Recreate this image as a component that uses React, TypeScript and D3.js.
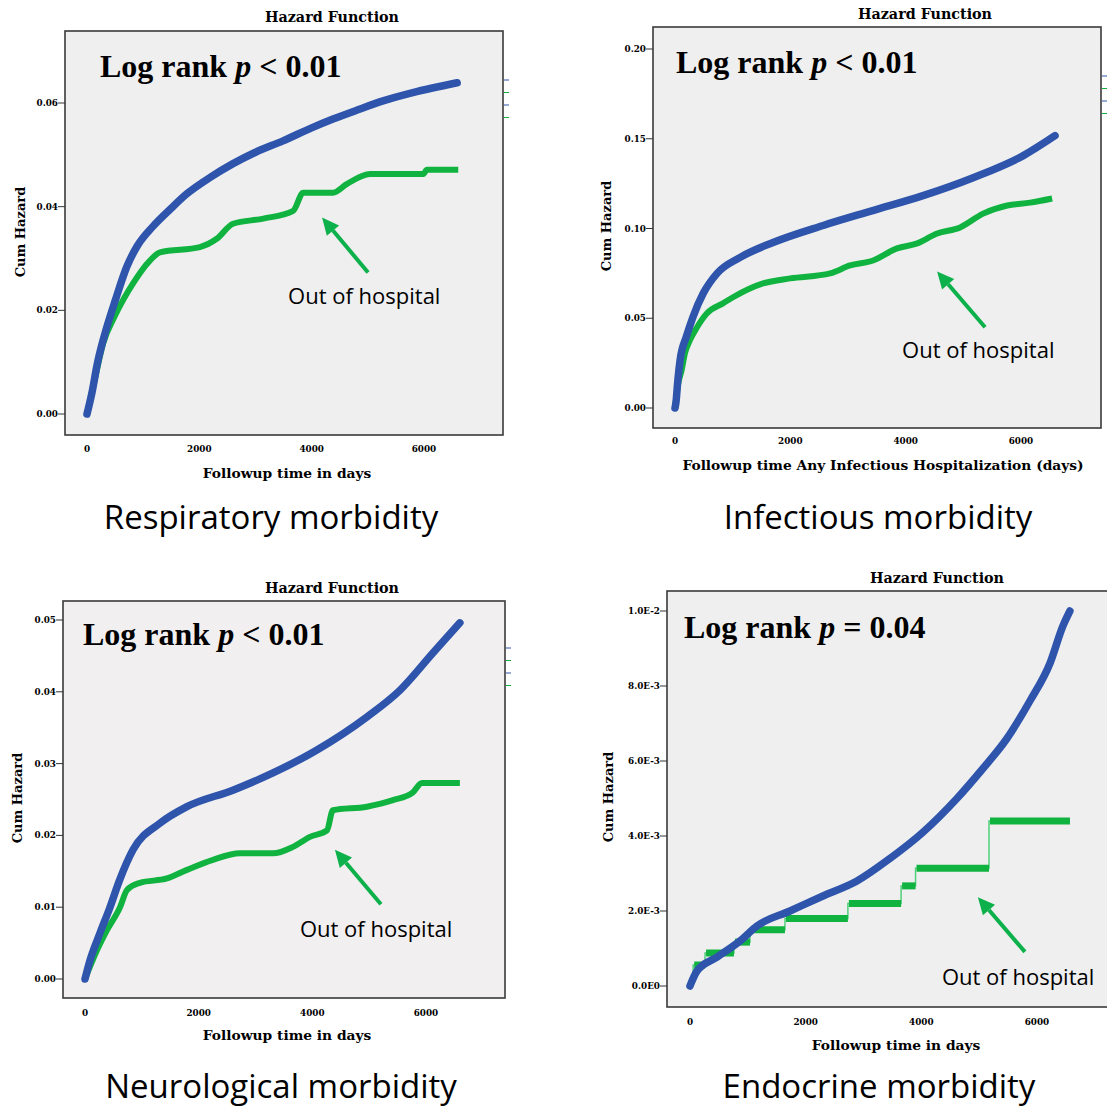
import React from "react";
import * as d3 from "d3";

// ---- Respiratory morbidity ----
const respBlueT = [0, 90, 180, 360, 500, 712, 900, 1175, 1500, 1780, 2200, 2600, 3000, 3490, 4000, 4380, 4800, 5270, 5800, 6590];
const respBlueV = [0, 0.0042, 0.0095, 0.017, 0.0218, 0.0285, 0.0325, 0.0362, 0.0397, 0.0425, 0.0457, 0.0483, 0.0505, 0.0527, 0.0552, 0.0569, 0.0586, 0.0604, 0.062, 0.0639];
const respGreenT = [0, 142, 285, 500, 820, 1120, 1300, 2010, 2310, 2600, 3140, 3670, 3850, 4380, 4630, 5040, 5990, 6050, 6610];
const respGreenV = [0, 0.0068, 0.0135, 0.019, 0.0252, 0.0296, 0.0312, 0.0322, 0.0338, 0.0367, 0.0377, 0.0392, 0.0427, 0.0427, 0.0444, 0.0463, 0.0463, 0.0471, 0.0471];
const respTicks = [0, 0.02, 0.04, 0.06];

// ---- Infectious morbidity ----
const infBlueT = [0, 20, 40, 90, 200, 310, 490, 730, 1130, 1700, 2570, 3430, 4300, 5170, 6040, 6590];
const infBlueV = [0, 0.004, 0.012, 0.027, 0.04, 0.0506, 0.0639, 0.075, 0.0839, 0.0922, 0.1017, 0.11, 0.1183, 0.1283, 0.1406, 0.1517];
const infGreenT = [0, 58, 115, 173, 260, 382, 555, 832, 1006, 1526, 1995, 2690, 3036, 3435, 3850, 4200, 4545, 4944, 5343, 5760, 6158, 6540];
const infGreenV = [0, 0.0139, 0.021, 0.0306, 0.0378, 0.045, 0.0528, 0.0583, 0.0617, 0.0694, 0.0722, 0.075, 0.0794, 0.0822, 0.0889, 0.0917, 0.0972, 0.1006, 0.1083, 0.1128, 0.1144, 0.1167];
const infTicks = [0, 0.05, 0.1, 0.15, 0.2];

// ---- Neurological morbidity ----
const neuBlueT = [0, 88, 264, 440, 600, 845, 1320, 1794, 2603, 3307, 4081, 4960, 5540, 6121, 6596];
const neuBlueV = [0, 0.0026, 0.0064, 0.01, 0.0136, 0.018, 0.0217, 0.024, 0.0263, 0.0287, 0.0319, 0.0365, 0.0402, 0.0454, 0.0496];
const neuGreenT = [0, 211, 387, 616, 739, 967, 1442, 1794, 2252, 2726, 3307, 3659, 3958, 4257, 4362, 4960, 5418, 5770, 5928, 6596];
const neuGreenV = [0, 0.004, 0.0068, 0.01, 0.0124, 0.0134, 0.014, 0.0152, 0.0166, 0.0175, 0.0175, 0.0184, 0.0198, 0.0207, 0.0235, 0.024, 0.0249, 0.026, 0.0273, 0.0273];
const neuTicks = [0, 0.01, 0.02, 0.03, 0.04, 0.05];

// ---- Endocrine morbidity ----
const endBlueT = [0, 121, 467, 864, 1158, 1729, 2299, 2887, 3457, 4028, 4615, 5065, 5480, 5877, 6223, 6448, 6569];
const endBlueV = [0, 0.0004, 0.00077, 0.0012, 0.0016, 0.002, 0.0024, 0.0028, 0.0034, 0.0041, 0.005, 0.0058, 0.0066, 0.0076, 0.0086, 0.0096, 0.01];
const endGreenT = [0, 35, 55, 260, 760, 1037, 1642, 2730, 3650, 3900, 5170, 6570];
const endGreenV = [0, 0.0003, 0.00056, 0.00088, 0.00117, 0.0015, 0.0018, 0.0022, 0.00267, 0.00314, 0.0044, 0.0044];
const endTicks = [0, 0.002, 0.004, 0.006, 0.008, 0.01];
const endTickLabels = ["0.0E0", "2.0E-3", "4.0E-3", "6.0E-3", "8.0E-3", "1.0E-2"];

const xTicks = [0, 2000, 4000, 6000];

const BLUE = "#2e54ac";
const GREEN = "#10b33f";
const ARROW = "#0db14b";
const SERIF = "'DejaVu Serif', serif";

const zip = (t: number[], v: number[]) => t.map((d, i) => [d, v[i]] as [number, number]);

const panels = [
  {
    frame: { l: 65, r: 503, t: 31, b: 435 }, bg: "#efefef",
    xr: [87, 424], yMax: 0.06, yr: [414, 103],
    ticks: respTicks, tickLabels: respTicks.map(d => d.toFixed(2)),
    blue: zip(respBlueT, respBlueV), green: zip(respGreenT, respGreenV), step: false,
    title: [332, 22], logrank: "< 0.01", lr: [100, 77],
    xLabel: "Followup time in days", xl: [287, 478], xtY: 452, yl: [20, 232],
    caption: "Respiratory morbidity", cap: [271, 529],
    arrow: [[5004, 0.0273], [4185, 0.0379]], note: [3580, 0.0213],
    legend: [504, 80],
  },
  {
    frame: { l: 653, r: 1101, t: 27, b: 428 }, bg: "#efefef",
    xr: [675, 1021], yMax: 0.2, yr: [408, 49],
    ticks: infTicks, tickLabels: infTicks.map(d => d.toFixed(2)),
    blue: zip(infBlueT, infBlueV), green: zip(infGreenT, infGreenV), step: false,
    title: [925, 19], logrank: "< 0.01", lr: [676, 73],
    xLabel: "Followup time Any Infectious Hospitalization (days)", xl: [883, 470], xtY: 444, yl: [606, 226],
    caption: "Infectious morbidity", cap: [878, 529],
    arrow: [[5377, 0.045], [4545, 0.0761]], note: [3938, 0.0278],
    legend: [1102, 76],
  },
  {
    frame: { l: 63, r: 505, t: 601, b: 998 }, bg: "#f1eff0",
    xr: [85, 426], yMax: 0.05, yr: [979, 620],
    ticks: neuTicks, tickLabels: neuTicks.map(d => d.toFixed(2)),
    blue: zip(neuBlueT, neuBlueV), green: zip(neuGreenT, neuGreenV), step: false,
    title: [332, 593], logrank: "< 0.01", lr: [83, 645],
    xLabel: "Followup time in days", xl: [287, 1040], xtY: 1016, yl: [17, 798],
    caption: "Neurological morbidity", cap: [281, 1098],
    arrow: [[5207, 0.0104], [4398, 0.018]], note: [3782, 0.00585],
    legend: [506, 648],
  },
  {
    frame: { l: 667, r: 1118, t: 591, b: 1007 }, bg: "#efefef",
    xr: [690, 1037], yMax: 0.01, yr: [986, 611],
    ticks: endTicks, tickLabels: endTickLabels,
    blue: zip(endBlueT, endBlueV), green: zip(endGreenT, endGreenV), step: true,
    title: [937, 583], logrank: "= 0.04", lr: [684, 638],
    xLabel: "Followup time in days", xl: [896, 1050], xtY: 1025, yl: [608, 797],
    caption: "Endocrine morbidity", cap: [879, 1098],
    arrow: [[5791, 0.00091], [4978, 0.00237]], note: [4356, 0.00003],
    legend: null,
  },
];

function Panel({ p }: { p: any }) {
  const x = d3.scaleLinear().domain([0, 6000]).range(p.xr);
  const y = d3.scaleLinear().domain([0, p.yMax]).range(p.yr);
  const line = d3.line<[number, number]>().x(d => x(d[0])).y(d => y(d[1])).curve(d3.curveMonotoneX);
  const stepLine = d3.line<[number, number]>().x(d => x(d[0])).y(d => y(d[1])).curve(d3.curveStepAfter);
  const f = p.frame;
  const [ax0, ay0] = [x(p.arrow[0][0]), y(p.arrow[0][1])];
  const [ax1, ay1] = [x(p.arrow[1][0]), y(p.arrow[1][1])];
  const ang = Math.atan2(ay1 - ay0, ax1 - ax0);
  const hl = 17, hw = 8;
  const bx = ax1 - hl * Math.cos(ang), by = ay1 - hl * Math.sin(ang);
  const head = [
    [ax1, ay1],
    [bx + hw * Math.sin(ang), by - hw * Math.cos(ang)],
    [bx - hw * Math.sin(ang), by + hw * Math.cos(ang)],
  ].map(d => d.join(",")).join(" ");
  return (
    <g>
      <text x={p.title[0]} y={p.title[1]} textAnchor="middle" fontFamily={SERIF} fontWeight="bold" fontSize={14.3}>Hazard Function</text>
      <rect x={f.l} y={f.t} width={f.r - f.l} height={f.b - f.t} fill={p.bg} stroke="#3a3a3a" strokeWidth={1.6} />
      {p.ticks.map((t: number, i: number) => (
        <g key={i}>
          <line x1={f.l - 7} x2={f.l} y1={y(t)} y2={y(t)} stroke="#333" strokeWidth={1} />
          <text x={f.l - 7} y={y(t)} dy="0.35em" textAnchor="end" fontFamily={SERIF} fontWeight="bold" fontSize={8.8}>{p.tickLabels[i]}</text>
        </g>
      ))}
      {xTicks.map(t => (
        <text key={t} x={x(t)} y={p.xtY} textAnchor="middle" fontFamily={SERIF} fontWeight="bold" fontSize={8.8}>{t}</text>
      ))}
      <text x={p.xl[0]} y={p.xl[1]} textAnchor="middle" fontFamily={SERIF} fontWeight="bold" fontSize={13.8}>{p.xLabel}</text>
      <text transform={`translate(${p.yl[0]},${p.yl[1]}) rotate(-90)`} textAnchor="middle" dy="0.35em" fontFamily={SERIF} fontWeight="bold" fontSize={13}>Cum Hazard</text>
      {p.step ? (
        <g>
          <path d={stepLine(p.green) || ""} fill="none" stroke="#4fd07a" strokeWidth={1.5} />
          {p.green.slice(1, -1).map((d: [number, number], i: number) => {
            const next = p.green[i + 2];
            return <line key={i} x1={x(d[0]) + 1} x2={x(next[0])} y1={y(d[1])} y2={y(d[1])} stroke={GREEN} strokeWidth={7} />;
          })}
        </g>
      ) : (
        <path d={line(p.green) || ""} fill="none" stroke={GREEN} strokeWidth={6} strokeLinejoin="round" />
      )}
      <path d={line(p.blue) || ""} fill="none" stroke={BLUE} strokeWidth={7.5} strokeLinejoin="round" strokeLinecap="round" />
      <text x={p.lr[0]} y={p.lr[1]} fontFamily="'Liberation Serif', 'Times New Roman', serif" fontWeight="bold" fontSize={32}>
        Log rank <tspan fontStyle="italic">p</tspan> {p.logrank}
      </text>
      <line x1={ax0} y1={ay0} x2={bx} y2={by} stroke={ARROW} strokeWidth={4} />
      <polygon points={head} fill={ARROW} />
      <text x={x(p.note[0])} y={y(p.note[1])} fontFamily="'Open Sans', sans-serif" fontSize={22}>Out of hospital</text>
      <text x={p.cap[0]} y={p.cap[1]} textAnchor="middle" fontFamily="'Open Sans', sans-serif" fontSize={33}>{p.caption}</text>
      {p.legend && [BLUE, GREEN, BLUE, GREEN].map((c, i) => (
        <line key={i} x1={p.legend[0]} x2={p.legend[0] + 5} y1={p.legend[1] + i * 12.5} y2={p.legend[1] + i * 12.5} stroke={c} strokeWidth={1} />
      ))}
    </g>
  );
}

export default function App() {
  return (
    <svg width={1107} height={1107} style={{ position: "absolute", left: 0, top: 0, background: "#fff" }}>
      <rect width={1107} height={1107} fill="#fff" />
      {panels.map((p, i) => <Panel key={i} p={p} />)}
    </svg>
  );
}
